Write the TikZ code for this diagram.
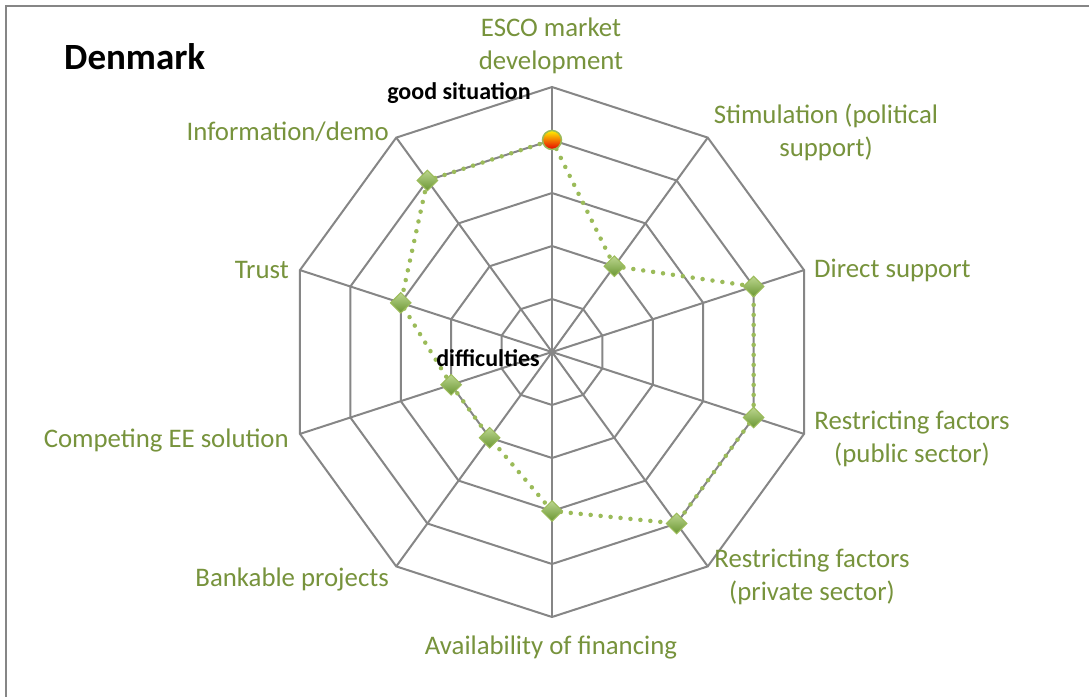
\documentclass[tikz,border=0pt]{standalone}
\usepackage{fontspec}
\setmainfont{Carlito}
\usetikzlibrary{shapes.geometric}
\definecolor{lbl}{HTML}{77933C}
\definecolor{dat}{HTML}{9BBB59}
\definecolor{gridc}{HTML}{868686}
\definecolor{dtop}{HTML}{BCD68F}
\definecolor{dbot}{HTML}{6A9632}
\tikzset{
  gridline/.style={draw=gridc, line width=2pt, line join=miter},
  lab/.style={text=lbl, font=\fontsize{26.8}{33}\selectfont, align=center, inner sep=0pt},
  blab/.style={text=black, font=\bfseries\fontsize{24}{28}\selectfont, inner sep=0pt},
  dataline/.style={draw=dat, line width=4.5pt, line cap=round, dash pattern=on 0pt off 10pt},
  diam/.style={diamond, draw=dat, line width=1pt, top color=dtop, bottom color=dbot, minimum width=21pt, minimum height=21pt, inner sep=0pt},
  redmark/.style={circle, draw=dat, line width=1.5pt, top color=yellow!90!orange, bottom color=red!90!black, minimum size=19pt, inner sep=0pt}
}
\begin{document}
\begin{tikzpicture}[x=1pt,y=-1pt]
\useasboundingbox (0,0) rectangle (1089,696);
\clip (0,0) rectangle (1089,696);
\fill[white] (0,0) rectangle (1089,696);
\draw[draw=gridc, line width=2pt] (6,6) rectangle (1200,800);
\node[font=\bfseries\fontsize{37}{42}\selectfont, inner sep=0pt, anchor=west] (title) at (64,57) {Denmark};
\begin{scope}[shift={(552,352)}]
  \coordinate (c) at (0,0);
  \foreach \k in {1,...,5} {
    \draw[gridline] (-90:{\k*53}) -- (-54:{\k*53}) -- (-18:{\k*53}) -- (18:{\k*53}) -- (54:{\k*53}) -- (90:{\k*53}) -- (126:{\k*53}) -- (162:{\k*53}) -- (198:{\k*53}) -- (234:{\k*53}) -- cycle;
  }
  \foreach \a in {-90,-54,-18,18,54,90,126,162,198,234} {
    \draw[gridline] (c) -- (\a:265);
  }
  \coordinate (p0) at (-90:212);
  \coordinate (p1) at (-54:106);
  \coordinate (p2) at (-18:212);
  \coordinate (p3) at (18:212);
  \coordinate (p4) at (54:212);
  \coordinate (p5) at (90:159);
  \coordinate (p6) at (126:106);
  \coordinate (p7) at (162:106);
  \coordinate (p8) at (198:159);
  \coordinate (p9) at (234:212);
  \draw[dataline] (p0) -- (p1) -- (p2) -- (p3) -- (p4) -- (p5) -- (p6) -- (p7) -- (p8) -- (p9) -- cycle;
  \node[redmark] (m0) at (p0) {};
  \foreach \i in {1,...,9} { \node[diam] (m\i) at (p\i) {}; }
\end{scope}
\node[blab] (good) at (459,93) {good situation};
\node[blab] (diff) at (488,358) {difficulties};
\node[lab] (l0) at (551,46) {ESCO market\\development};
\node[lab] (l1) at (826,132) {Stimulation (political\\support)};
\node[lab, anchor=west] (l2) at (814,270) {Direct support};
\node[lab] (l3) at (912,439) {Restricting factors\\(public sector)};
\node[lab] (l4) at (812,577) {Restricting factors\\(private sector)};
\node[lab] (l5) at (551,647) {Availability of financing};
\node[lab, anchor=east] (l6) at (389,579) {Bankable projects};
\node[lab, anchor=east] (l7) at (289,440) {Competing EE solution};
\node[lab, anchor=east] (l8) at (289,270) {Trust};
\node[lab, anchor=east] (l9) at (389,132) {Information/demo};
\end{tikzpicture}
\end{document}
